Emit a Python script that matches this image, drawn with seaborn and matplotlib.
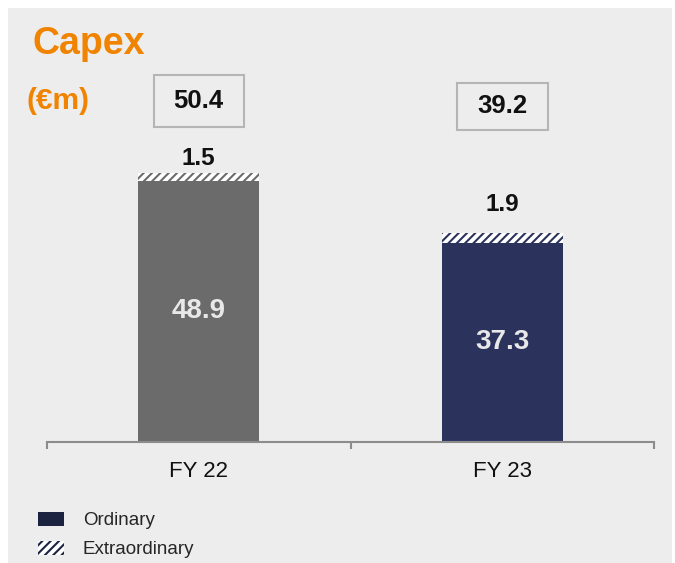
import matplotlib
matplotlib.use('Agg')
import matplotlib.pyplot as plt
from matplotlib.patches import Patch, Rectangle
import seaborn as sns

# Data (EUR m)
years = ['FY 22', 'FY 23']
ordinary = [48.9, 37.3]
extraordinary = [1.5, 1.9]
totals = [50.4, 39.2]

# Styling
bar_colors = ['#6b6b6b', '#2b335d']
legend_navy = '#1c2341'
bg = '#ededed'
orange = '#f08300'

sns.set_style('white')
plt.rcParams['font.family'] = ['Liberation Sans', 'DejaVu Sans']
plt.rcParams['hatch.linewidth'] = 1.5

fig = plt.figure(figsize=(6.75, 5.63), dpi=100)
fig.patch.set_facecolor('white')
# grey panel behind everything (white margin top/left/right)
fig.patches.append(Rectangle((8 / 675, 0), 664 / 675, 555 / 563,
                             transform=fig.transFigure, facecolor=bg,
                             edgecolor='none', zorder=-10))

ax = fig.add_axes([47 / 675, (563 - 442) / 563, 607 / 675, 342 / 563])
ax.set_facecolor('none')

stack_top = [o + e for o, e in zip(ordinary, extraordinary)]

# hatched extraordinary part: full stack height, then ordinary drawn over it
sns.barplot(x=years, y=stack_top, hue=years, palette=bar_colors,
            width=0.4, legend=False, ax=ax, linewidth=0)
for p, c in zip(ax.patches, bar_colors):
    p.set_facecolor('white')
    p.set_edgecolor(c)
    p.set_hatch('////')
    p.set_linewidth(0)

sns.barplot(x=years, y=ordinary, hue=years, palette=bar_colors,
            width=0.4, legend=False, ax=ax, linewidth=0, saturation=1)
for p, c in zip(ax.patches[len(years):], bar_colors):
    p.set_facecolor(c)

ax.set_xlim(-0.5, 1.5)
ax.set_ylim(0, 64)
ax.set_xlabel('')
ax.set_ylabel('')
ax.set_yticks([])
for s in ['top', 'right', 'left']:
    ax.spines[s].set_visible(False)
ax.spines['bottom'].set_color('#8c8c8c')
ax.spines['bottom'].set_linewidth(1.5)
ax.set_xticks([-0.5, 0.5, 1.5], minor=True)
ax.tick_params(axis='x', which='minor', length=5, width=1.5,
               color='#8c8c8c', direction='out', bottom=True)
ax.tick_params(axis='x', which='major', length=0, pad=13.5,
               labelsize=16, labelcolor='#111111')

# value labels
ext_offsets = [10, 20]
box_y = [0.997, 0.981]
box_h = [0.152, 0.135]
for i in range(len(years)):
    ax.text(i, ordinary[i] / 2, f'{ordinary[i]:.1f}', ha='center',
            va='center', fontsize=20, fontweight='bold', color='#e8e8e8')
    ax.annotate(f'{extraordinary[i]:.1f}', (i, stack_top[i]),
                xytext=(0, ext_offsets[i]), textcoords='offset points',
                ha='center', va='center', fontsize=17.5, fontweight='bold',
                color='#111111')
    trans = ax.get_xaxis_transform()
    ax.add_patch(Rectangle((i - 0.148, box_y[i] - box_h[i] / 2), 0.298,
                           box_h[i], transform=trans, facecolor=bg,
                           edgecolor='#b5b5b5', linewidth=1.5,
                           clip_on=False))
    ax.text(i, box_y[i], f'{totals[i]:.1f}', transform=trans,
            ha='center', va='center', fontsize=18.5, fontweight='bold',
            color='#111111')

fig.text(33 / 675, (563 - 44) / 563, 'Capex', fontsize=27,
         fontweight='bold', color=orange, va='center', ha='left')
fig.text(26 / 675, (563 - 101) / 563, '(€m)', fontsize=21.5,
         fontweight='bold', color=orange, va='center', ha='left')

handles = [Patch(facecolor=legend_navy, edgecolor='none', label='Ordinary'),
           Patch(facecolor='#ffffff', edgecolor=legend_navy, hatch='////',
                 linewidth=0, label='Extraordinary')]
fig.legend(handles=handles, loc='upper left',
           bbox_to_anchor=(38 / 675, (563 - 512) / 563), frameon=False,
           fontsize=13.5, handlelength=1.4, handleheight=0.75,
           handletextpad=1.0, labelspacing=0.62, borderpad=0,
           borderaxespad=0)

fig.savefig('out.png', dpi=100, facecolor=fig.get_facecolor())
